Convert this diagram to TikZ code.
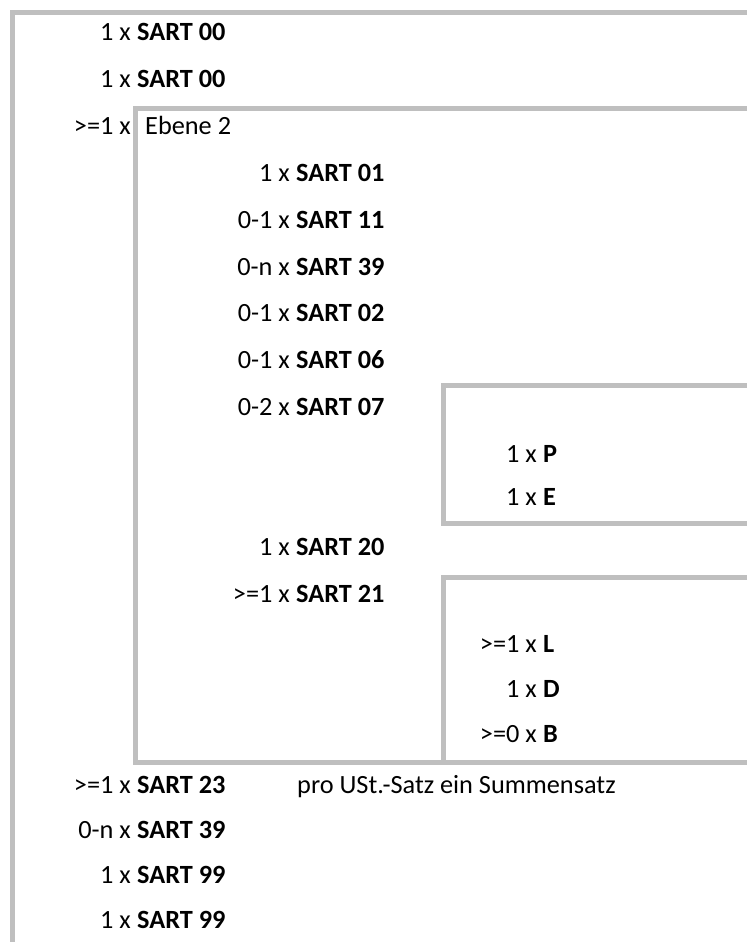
\documentclass[tikz,border=0pt]{standalone}
\usepackage{fontspec}
\setmainfont{Carlito}
\begin{document}
\begin{tikzpicture}[x=1pt,y=-1pt,
  frame/.style={draw=black!25, line width=5pt},
  cnt/.style={anchor=base east, inner sep=0pt, font=\fontsize{26.3}{30}\selectfont},
  nam/.style={anchor=base west, inner sep=0pt, font=\fontsize{26.3}{30}\selectfont\bfseries},
  txt/.style={anchor=base west, inner sep=0pt, font=\fontsize{26.3}{30}\selectfont}]
\useasboundingbox[fill=white] (0,0) rectangle (747,942);
% frames
\coordinate (o1) at (747,12.5); \coordinate (o2) at (12.5,12.5); \coordinate (o3) at (12.5,942);
\draw[frame] (o1) -- (o2) -- (o3);
\coordinate (e1) at (747,108); \coordinate (e2) at (135,108); \coordinate (e3) at (135,762); \coordinate (e4) at (747,762);
\draw[frame] (e1) -- (e2) -- (e3) -- (e4);
\coordinate (p1) at (747,385); \coordinate (p2) at (443,385); \coordinate (p3) at (443,523); \coordinate (p4) at (747,523);
\draw[frame] (p1) -- (p2) -- (p3) -- (p4);
\coordinate (l1) at (747,577); \coordinate (l2) at (443,577); \coordinate (l3) at (443,762);
\draw[frame] (l1) -- (l2) -- (l3);
% outer column
\node[cnt] (c0) at (131,41) {1 x}; \node[nam] (n0) at (137,41) {SART 00};
\node[cnt] (c1) at (131,87.8) {1 x}; \node[nam] (n1) at (137,87.8) {SART 00};
\node[cnt] (c2) at (131,134.6) {>=1 x}; \node[txt] (n2) at (145,134.6) {Ebene 2};
% inner column
\node[cnt] (c3) at (290,181.4) {1 x}; \node[nam] (n3) at (296,181.4) {SART 01};
\node[cnt] (c4) at (290,228.2) {0-1 x}; \node[nam] (n4) at (296,228.2) {SART 11};
\node[cnt] (c5) at (290,275) {0-n x}; \node[nam] (n5) at (296,275) {SART 39};
\node[cnt] (c6) at (290,321.8) {0-1 x}; \node[nam] (n6) at (296,321.8) {SART 02};
\node[cnt] (c7) at (290,368.6) {0-1 x}; \node[nam] (n7) at (296,368.6) {SART 06};
\node[cnt] (c8) at (290,415.4) {0-2 x}; \node[nam] (n8) at (296,415.4) {SART 07};
\node[cnt] (c9) at (537,462.2) {1 x}; \node[nam] (n9) at (543,462.2) {P};
\node[cnt] (c10) at (537,505) {1 x}; \node[nam] (n10) at (543,505) {E};
\node[cnt] (c11) at (290,555.8) {1 x}; \node[nam] (n11) at (296,555.8) {SART 20};
\node[cnt] (c12) at (290,602.6) {>=1 x}; \node[nam] (n12) at (296,602.6) {SART 21};
\node[cnt] (c13) at (537,652) {>=1 x}; \node[nam] (n13) at (543,652) {L};
\node[cnt] (c14) at (537,697) {1 x}; \node[nam] (n14) at (543,697) {D};
\node[cnt] (c15) at (537,742) {>=0 x}; \node[nam] (n15) at (543,742) {B};
% outer column, after
\node[cnt] (c16) at (131,793.5) {>=1 x}; \node[nam] (n16) at (137,793.5) {SART 23};
\node[txt] (t16) at (297,793.5) {pro USt.-Satz ein Summensatz};
\node[cnt] (c17) at (131,838.5) {0-n x}; \node[nam] (n17) at (137,838.5) {SART 39};
\node[cnt] (c18) at (131,883.5) {1 x}; \node[nam] (n18) at (137,883.5) {SART 99};
\node[cnt] (c19) at (131,928.5) {1 x}; \node[nam] (n19) at (137,928.5) {SART 99};
\end{tikzpicture}
\end{document}
